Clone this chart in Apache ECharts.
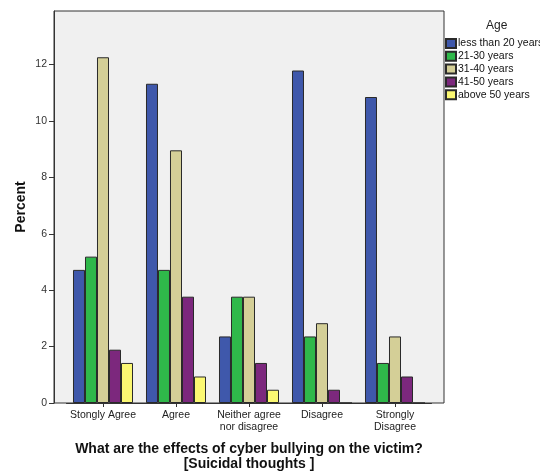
<!DOCTYPE html>
<html><head><meta charset="utf-8">
<script src="https://cdn.jsdelivr.net/npm/echarts@6/dist/echarts.min.js"></script>
<style>html,body{margin:0;padding:0;background:#fff}#c{width:540px;height:472px}</style>
</head><body><div id="c"></div>
<script>
const categories = ['Stongly Agree', 'Agree', 'Neither agree\nnor disagree', 'Disagree', 'Strongly\nDisagree'];
const seriesNames = ['less than 20 years', '21-30 years', '31-40 years', '41-50 years', 'above 50 years'];
const lessThan20 = [4.72, 11.32, 2.36, 11.79, 10.85];
const age21to30 = [5.19, 4.72, 3.77, 2.36, 1.42];
const age31to40 = [12.26, 8.96, 3.77, 2.83, 2.36];
const age41to50 = [1.89, 3.77, 1.42, 0.47, 0.94];
const above50 = [1.42, 0.94, 0.47, 0, 0];
const yTicks = [0, 2, 4, 6, 8, 10, 12];
const colors = ['#3f58ab', '#2fb84a', '#d4cf97', '#7c287d', '#fbf872'];
const values = [lessThan20, age21to30, age31to40, age41to50, above50];

const font = 'Liberation Sans, Arial, sans-serif';
const chart = echarts.init(document.getElementById('c'), null, {renderer: 'canvas'});
chart.setOption({
  animation: false,
  backgroundColor: '#ffffff',
  graphic: [
    {type: 'rect', z: -10, shape: {x: 54, y: 11, width: 390, height: 392},
     style: {fill: '#f0f0f0', stroke: '#333333', lineWidth: 1}},
    {type: 'text', left: 486, top: 20, style: {text: 'Age', font: '12px ' + font, fill: '#222'}}
  ],
  grid: {left: 66.5, right: 108.5, top: 11, bottom: 69, containLabel: false, outerBoundsMode: 'none'},
  legend: {
    orient: 'vertical', left: 440, top: 33, itemWidth: 10, itemHeight: 9, itemGap: 1.8,
    icon: 'rect', textStyle: {fontSize: 10.5, lineHeight: 11, fontFamily: font, color: '#111', padding: [0,0,0,-3]},
    data: seriesNames
  },
  xAxis: {
    type: 'category', data: categories,
    axisLine: {show: true, lineStyle: {color: '#333'}},
    axisTick: {show: true, alignWithLabel: true, length: 4, lineStyle: {color: '#333'}},
    axisLabel: {fontSize: 10.5, fontFamily: font, color: '#222', margin: 6, lineHeight: 12, interval: 0},
    name: 'What are the effects of cyber bullying on the victim?\n[Suicidal thoughts ]',
    nameLocation: 'middle', nameGap: 39, nameMoveOverlap: false,
    nameTextStyle: {fontSize: 14, fontWeight: 'bold', fontFamily: font, color: '#111', lineHeight: 15}
  },
  yAxis: {
    type: 'value', min: 0, max: 13.9, interval: 2, offset: 12.5,
    splitLine: {show: false},
    axisLine: {show: true, lineStyle: {color: '#333'}},
    axisTick: {show: true, length: 5, lineStyle: {color: '#333'}, customValues: yTicks},
    axisLabel: {fontSize: 10.5, fontFamily: font, color: '#333', margin: 7, customValues: yTicks},
    name: 'Percent', nameLocation: 'middle', nameGap: 26, nameMoveOverlap: false,
    nameTextStyle: {fontSize: 14, fontWeight: 'bold', fontFamily: font, color: '#111'}
  },
  series: seriesNames.map((n, i) => ({
    name: n, type: 'bar', data: values[i], barGap: '0%', barCategoryGap: '17.8%',
    itemStyle: {color: colors[i], borderColor: '#2a2a2a', borderWidth: 1}
  }))
});
</script></body></html>
